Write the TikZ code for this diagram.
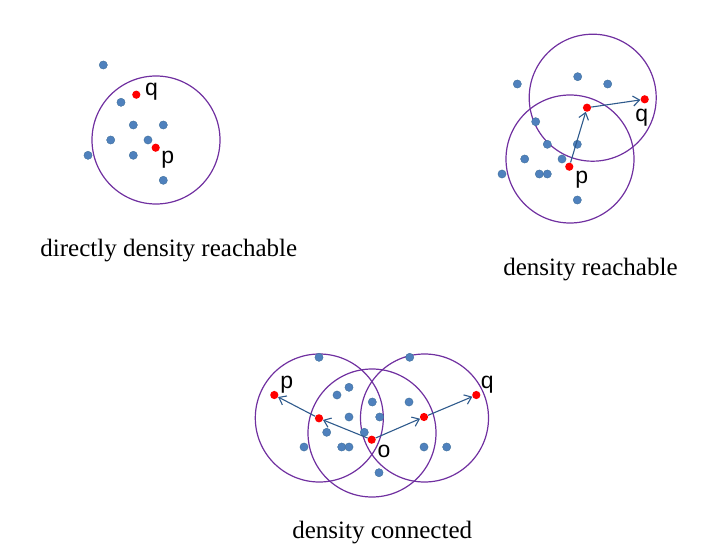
\documentclass[tikz,border=0pt]{standalone}
\usepackage{fontspec}
\setmainfont{Liberation Serif}
\newfontfamily\labfont{Liberation Sans}
\usetikzlibrary{arrows.meta}
\definecolor{ringc}{HTML}{7030A0}
\definecolor{bluef}{HTML}{4F81BD}
\definecolor{blued}{HTML}{41719C}
\definecolor{arrc}{HTML}{2E5A8C}
\tikzset{
  ring/.style={draw=ringc, line width=1.2pt},
  bdot/.style={circle, fill=bluef, draw=blued, line width=0.4pt, inner sep=0pt, minimum size=8.2pt},
  rdot/.style={circle, fill=red, inner sep=0pt, minimum size=8.2pt},
  link/.style={draw=arrc, line width=1.1pt, -{Straight Barb[length=6.5pt,width=10pt]}},
  lab/.style={anchor=base, inner sep=0pt, font=\labfont\fontsize{23}{26}\selectfont},
  caption/.style={anchor=base, inner sep=0pt, font=\fontsize{25}{29}\selectfont}
}
\begin{document}
\begin{tikzpicture}[x=1pt,y=-1pt]
\useasboundingbox (0,0) rectangle (714,548);
% ---------- panel 1 ----------
\draw[ring] (156,140) circle (64);
\node[bdot] (a1) at (103.3,65) {};
\node[bdot] (a2) at (121,102.3) {};
\node[bdot] (a3) at (133.3,125) {};
\node[bdot] (a4) at (163.3,125) {};
\node[bdot] (a5) at (110.7,140) {};
\node[bdot] (a6) at (148,140) {};
\node[bdot] (a7) at (88,155.3) {};
\node[bdot] (a8) at (133.3,155.3) {};
\node[bdot] (a9) at (163.3,180.3) {};
\node[rdot] (aq) at (136.3,94.7) {};
\node[rdot] (ap) at (155.7,147.7) {};
\node[lab] (aql) at (151.5,96) {q};
\node[lab] (apl) at (167.8,163.7) {p};
\node[caption] (cap1) at (168.8,256.7) {directly density reachable};
% ---------- panel 2 ----------
\draw[ring] (592.7,97.7) circle (63.5);
\draw[ring] (570,159) circle (64);
\node[bdot] (b1) at (517.3,84) {};
\node[bdot] (b2) at (577.7,76.7) {};
\node[bdot] (b3) at (607.7,84) {};
\node[bdot] (b4) at (535.7,121.7) {};
\node[bdot] (b5) at (547.3,144.3) {};
\node[bdot] (b6) at (577.3,144.3) {};
\node[bdot] (b7) at (524.7,159) {};
\node[bdot] (b8) at (562,159) {};
\node[bdot] (b9) at (502,174) {};
\node[bdot] (b10) at (539.3,174) {};
\node[bdot] (b11) at (547.3,174) {};
\node[bdot] (b12) at (577.3,200) {};
\node[rdot] (bm) at (587,107.7) {};
\node[rdot] (bq) at (644.7,99.3) {};
\node[rdot] (bp) at (569.3,166.7) {};
\draw[link] (bp) -- (bm);
\draw[link] (bm) -- (bq);
\node[lab] (bql) at (641.7,122) {q};
\node[lab] (bpl) at (581.7,183.7) {p};
\node[caption] (cap2) at (590.5,275) {density reachable};
% ---------- panel 3 ----------
\draw[ring] (319.3,418) circle (64);
\draw[ring] (372,433) circle (64);
\draw[ring] (424.5,418) circle (64);
\node[bdot] (c1) at (319,357.3) {};
\node[bdot] (c2) at (409.7,357.3) {};
\node[bdot] (c3) at (349,387.3) {};
\node[bdot] (c4) at (337,395) {};
\node[bdot] (c5) at (372.3,402) {};
\node[bdot] (c6) at (409,402) {};
\node[bdot] (c7) at (349,417) {};
\node[bdot] (c8) at (379.7,417) {};
\node[bdot] (c9) at (326.7,432.3) {};
\node[bdot] (c10) at (364.3,432.3) {};
\node[bdot] (c11) at (304,447) {};
\node[bdot] (c12) at (341.7,447) {};
\node[bdot] (c13) at (349,447) {};
\node[bdot] (c14) at (424,447) {};
\node[bdot] (c15) at (446.7,447) {};
\node[bdot] (c16) at (379,472.7) {};
\node[rdot] (cp) at (274.3,395) {};
\node[rdot] (cl) at (319,418.3) {};
\node[rdot] (co) at (371.7,439.7) {};
\node[rdot] (cr) at (424,417) {};
\node[rdot] (cq) at (476.3,395) {};
\draw[link] (co) -- (cl);
\draw[link] (cl) -- (cp);
\draw[link] (co) -- (cr);
\draw[link] (cr) -- (cq);
\node[lab] (cpl) at (286.7,388.7) {p};
\node[lab] (cql) at (487.3,388.7) {q};
\node[lab] (col) at (384,457.7) {o};
\node[caption] (cap3) at (382.2,538.3) {density connected};
\end{tikzpicture}
\end{document}
